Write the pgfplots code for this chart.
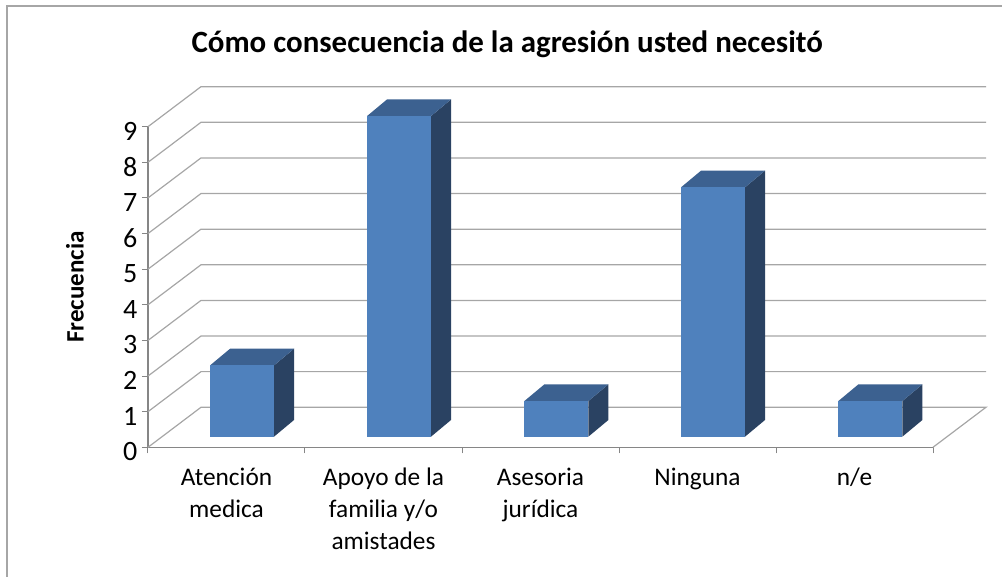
\documentclass[border=0pt]{standalone}
\usepackage{pgfplots}
\pgfplotsset{compat=1.18}
\usepackage{fontspec}
\setmainfont{Carlito}
\definecolor{front}{HTML}{4F81BD}
\definecolor{topc}{HTML}{3C6190}
\definecolor{sidec}{HTML}{2A4262}
\definecolor{axc}{HTML}{868686}
\definecolor{gridc}{HTML}{A6A6A6}
\begin{document}
\begin{tikzpicture}[x=0.75pt,y=0.75pt]
\useasboundingbox (-148,-129.7) rectangle (854,447.3);
\draw[color=gridc,line width=1.5pt] (-141,-129.7) -- (-141,441) -- (854,441);
\begin{axis}[
  at={(0,0)},anchor=south west,
  scale only axis,width=588.75pt,height=240.45pt,
  xmin=0,xmax=5,ymin=0,ymax=9,clip=false,
  axis x line*=bottom,axis y line*=left,
  axis line style={color=axc,line width=0.9pt,-},
  xtick={0.5,1.5,2.5,3.5,4.5},
  xticklabels={Atención\\medica,Apoyo de la\\familia y/o\\amistades,Asesoria\\jurídica,Ninguna,n/e},
  minor xtick={0,1,2,3,4,5},
  ytick={0,...,9},
  tick align=outside,
  major x tick style={draw=none},
  minor x tick style={color=axc,line width=0.75pt},
  y tick style={color=axc,line width=0.75pt},
  minor tick length=4.5pt,major tick length=4.5pt,
  /pgf/number format/assume math mode=true,
  xticklabel style={font=\fontsize{19}{24}\selectfont,align=center,yshift=-7.5pt,anchor=north},
  yticklabel style={font=\fontsize{21}{24}\selectfont,yshift=-3.4pt},
  title={\fontsize{23.2}{27}\selectfont\bfseries Cómo consecuencia de la agresión usted necesitó},
  title style={at={(axis cs:2.288,11.1)},anchor=center},
  ylabel={\fontsize{18.8}{22}\selectfont\bfseries Frecuencia},
  ylabel style={at={(axis cs:-0.465,4.5)},anchor=center,rotate=0},
  face/.style={fill=#1,draw=none,xshift=11.625pt,yshift=7.95pt},
]
% back wall and floor
\addplot[gridc,line width=0.9pt] coordinates {(0,0)(0.3376,1.1236)(5.3376,1.1236)(5,0)};
\addplot[gridc,line width=0.9pt] coordinates {(0,1)(0.3376,2.1236)(5.3376,2.1236)};
\addplot[gridc,line width=0.9pt] coordinates {(0,2)(0.3376,3.1236)(5.3376,3.1236)};
\addplot[gridc,line width=0.9pt] coordinates {(0,3)(0.3376,4.1236)(5.3376,4.1236)};
\addplot[gridc,line width=0.9pt] coordinates {(0,4)(0.3376,5.1236)(5.3376,5.1236)};
\addplot[gridc,line width=0.9pt] coordinates {(0,5)(0.3376,6.1236)(5.3376,6.1236)};
\addplot[gridc,line width=0.9pt] coordinates {(0,6)(0.3376,7.1236)(5.3376,7.1236)};
\addplot[gridc,line width=0.9pt] coordinates {(0,7)(0.3376,8.1236)(5.3376,8.1236)};
\addplot[gridc,line width=0.9pt] coordinates {(0,8)(0.3376,9.1236)(5.3376,9.1236)};
\addplot[gridc,line width=0.9pt] coordinates {(0,9)(0.3376,10.1236)(5.3376,10.1236)};
% side faces
\addplot[face=sidec] coordinates {(0.7038,0)(0.8318,0.47)(0.8318,2.47)(0.7038,2)} -- cycle;
\addplot[face=sidec] coordinates {(1.7038,0)(1.8318,0.47)(1.8318,9.47)(1.7038,9)} -- cycle;
\addplot[face=sidec] coordinates {(2.7058,0)(2.8338,0.47)(2.8338,1.47)(2.7058,1)} -- cycle;
\addplot[face=sidec] coordinates {(3.7038,0)(3.8318,0.47)(3.8318,7.47)(3.7038,7)} -- cycle;
\addplot[face=sidec] coordinates {(4.7058,0)(4.8338,0.47)(4.8338,1.47)(4.7058,1)} -- cycle;
% top faces
\addplot[face=topc] coordinates {(0.2962,2)(0.7038,2)(0.8318,2.47)(0.4242,2.47)} -- cycle;
\addplot[face=topc] coordinates {(1.2962,9)(1.7038,9)(1.8318,9.47)(1.4242,9.47)} -- cycle;
\addplot[face=topc] coordinates {(2.2982,1)(2.7058,1)(2.8338,1.47)(2.4262,1.47)} -- cycle;
\addplot[face=topc] coordinates {(3.2962,7)(3.7038,7)(3.8318,7.47)(3.4242,7.47)} -- cycle;
\addplot[face=topc] coordinates {(4.2982,1)(4.7058,1)(4.8338,1.47)(4.4262,1.47)} -- cycle;
% fronts
\addplot[face=front] coordinates {(0.2962,0)(0.7038,0)(0.7038,2)(0.2962,2)} -- cycle;
\addplot[face=front] coordinates {(1.2962,0)(1.7038,0)(1.7038,9)(1.2962,9)} -- cycle;
\addplot[face=front] coordinates {(2.2982,0)(2.7058,0)(2.7058,1)(2.2982,1)} -- cycle;
\addplot[face=front] coordinates {(3.2962,0)(3.7038,0)(3.7038,7)(3.2962,7)} -- cycle;
\addplot[face=front] coordinates {(4.2982,0)(4.7058,0)(4.7058,1)(4.2982,1)} -- cycle;
\end{axis}
\end{tikzpicture}
\end{document}
